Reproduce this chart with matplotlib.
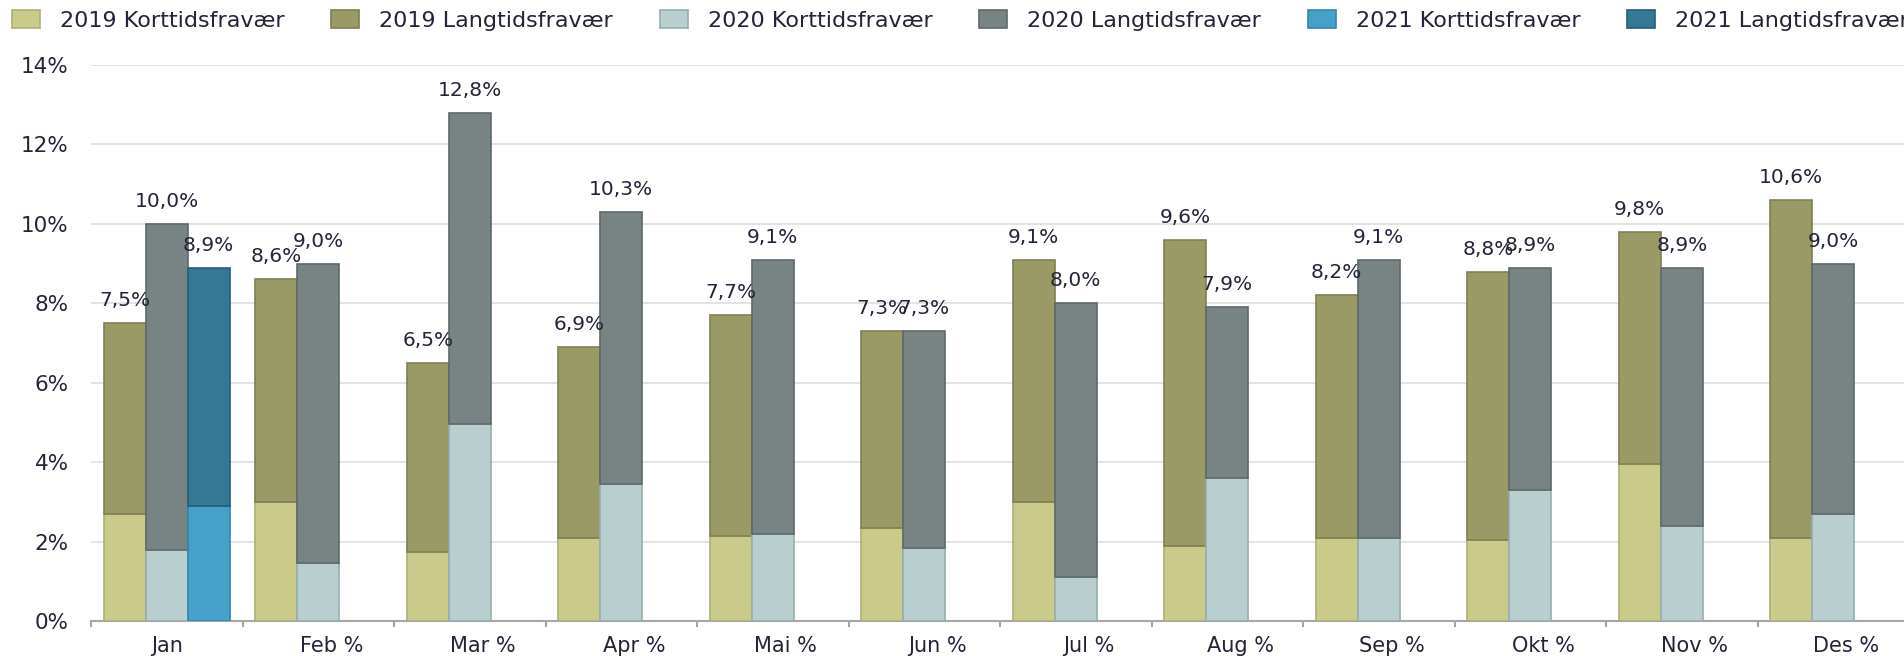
import numpy as np
import matplotlib
matplotlib.use("Agg")
import matplotlib.pyplot as plt
from matplotlib.transforms import ScaledTranslation

# Months on the x axis
months = ['Jan', 'Feb', 'Mar', 'Apr', 'Mai', 'Jun', 'Jul', 'Aug', 'Sep', 'Okt', 'Nov', 'Des']

# Short-term absence (bottom part) and total absence (label on top), in %
kort_2019 = [2.7, 3.0, 1.75, 2.1, 2.15, 2.35, 3.0, 1.9, 2.1, 2.05, 3.95, 2.1]
total_2019 = [7.5, 8.6, 6.5, 6.9, 7.7, 7.3, 9.1, 9.6, 8.2, 8.8, 9.8, 10.6]

kort_2020 = [1.8, 1.45, 4.95, 3.45, 2.2, 1.85, 1.1, 3.6, 2.1, 3.3, 2.4, 2.7]
total_2020 = [10.0, 9.0, 12.8, 10.3, 9.1, 7.3, 8.0, 7.9, 9.1, 8.9, 8.9, 9.0]

kort_2021 = [2.9, None, None, None, None, None, None, None, None, None, None, None]
total_2021 = [8.9, None, None, None, None, None, None, None, None, None, None, None]

years = ['2019', '2020', '2021']
kort = {'2019': kort_2019, '2020': kort_2020, '2021': kort_2021}
total = {'2019': total_2019, '2020': total_2020, '2021': total_2021}

# colours: (korttid face, korttid edge, langtid face, langtid edge)
colors = {
    '2019': ('#CACB8B', '#AEAF74', '#9A9A66', '#7F7F53'),
    '2020': ('#B9CECE', '#97AEAE', '#788483', '#5E6969'),
    '2021': ('#47A0C9', '#3586AB', '#347896', '#275E76'),
}

text_color = '#23233a'
plt.rcParams['font.family'] = ['DejaVu Sans']

fig = plt.figure(figsize=(19.04, 6.56), dpi=100)
ax = fig.add_axes([91 / 1904, 1 - 621 / 656, 1818 / 1904, (621 - 65) / 656])

x = np.arange(len(months))
width = 0.277
handles = []
labels = []
for i, year in enumerate(years):
    k = np.array(kort[year], dtype=float)
    t = np.array(total[year], dtype=float)
    lang = t - k
    pos = x + (i - 1) * width
    kf, ke, lf, le = colors[year]
    b1 = ax.bar(pos, k, width, color=kf, edgecolor=ke, linewidth=1.2, zorder=3)
    b2 = ax.bar(pos, lang, width, bottom=k, color=lf, edgecolor=le, linewidth=1.2, zorder=3)
    handles += [b1, b2]
    labels += [f'{year} Korttidsfravær', f'{year} Langtidsfravær']
    for xp, v in zip(pos, t):
        if np.isnan(v):
            continue
        ax.annotate(f'{v:.1f}%'.replace('.', ','), xy=(xp, v), xytext=(0, 17),
                    textcoords='offset pixels', ha='center', va='baseline',
                    fontsize=14.5, color=text_color, zorder=5, annotation_clip=False)

# axes styling
ax.set_xlim(-0.5, 11.5)
ax.set_ylim(0, 14)
ax.set_yticks(np.arange(0, 15, 2))
ax.set_yticklabels([f'{v}%' for v in range(0, 15, 2)])
ax.yaxis.grid(True, color='#dedede', linewidth=1.2)
ax.set_axisbelow(True)
for side in ['top', 'right', 'left']:
    ax.spines[side].set_visible(False)
ax.spines['bottom'].set_color('#a6a6a6')
ax.spines['bottom'].set_linewidth(1.5)
ax.tick_params(axis='y', length=0, pad=16, labelsize=15.5, labelcolor=text_color)

ax.set_xticks(x)
ax.set_xticklabels([months[0]] + [m + ' %' for m in months[1:]])
ax.set_xticks(np.arange(-0.5, 12, 1), minor=True)
ax.tick_params(axis='x', which='major', length=0, pad=11, labelsize=15, labelcolor=text_color)
ax.tick_params(axis='x', which='minor', length=4.5, width=1.5, color='#a6a6a6')

# keep the month name centred, the " %" hangs to the right
shift = ScaledTranslation(13 / 100, 0, fig.dpi_scale_trans)
for lbl in ax.get_xticklabels()[1:]:
    lbl.set_transform(lbl.get_transform() + shift)

# legend in a single row over the plot
fig.legend(handles, labels,
           loc='upper left', bbox_to_anchor=(12 / 1904, 1 - 10 / 656), ncol=6,
           frameon=False, fontsize=16, labelcolor=text_color,
           handlelength=1.26, handleheight=0.9, handletextpad=0.9,
           columnspacing=2.1, borderpad=0, borderaxespad=0)

fig.savefig('out.png', dpi=100)
